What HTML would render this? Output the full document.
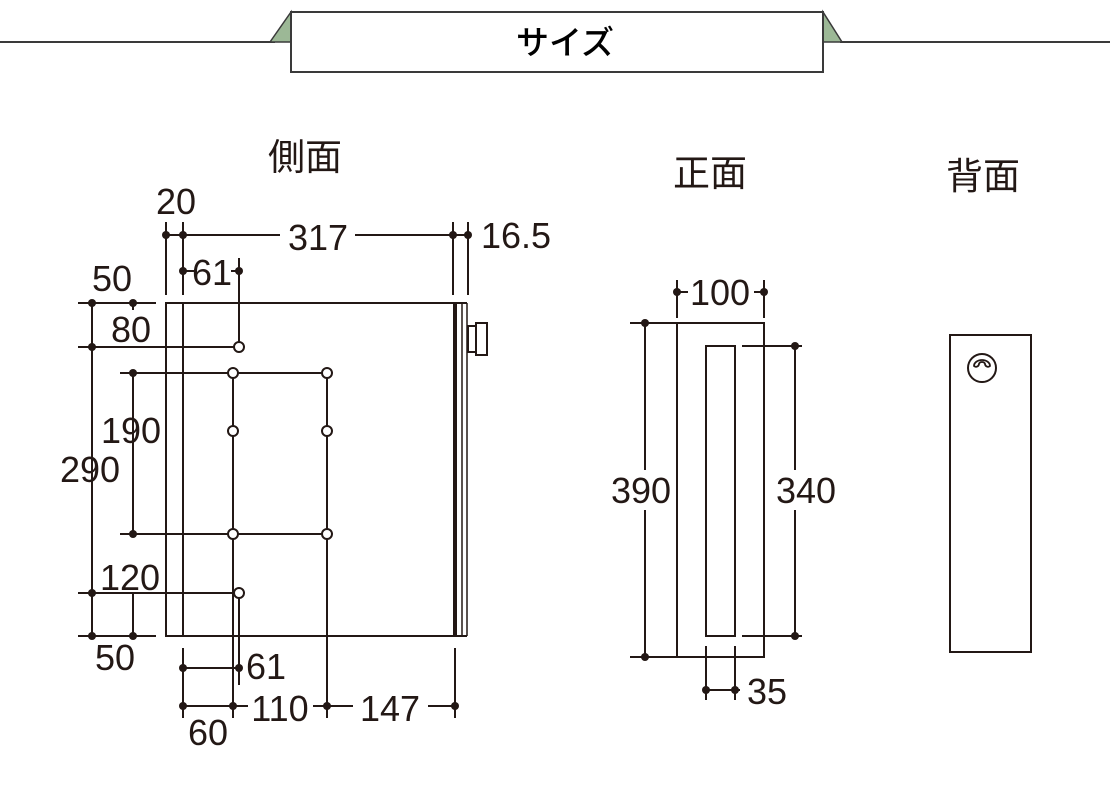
<!DOCTYPE html>
<html><head><meta charset="utf-8"><style>
html,body{margin:0;padding:0;background:#fff;width:1110px;height:810px;overflow:hidden}
svg{display:block}
text{font-family:"Liberation Sans","Noto Sans CJK JP",sans-serif;fill:#231815}
.n{font-size:36px;text-anchor:middle}
.t{font-size:37px;text-anchor:middle;font-family:"Noto Sans CJK JP","Liberation Sans",sans-serif}
</style></head><body>
<svg width="1110" height="810" viewBox="0 0 1110 810" xmlns="http://www.w3.org/2000/svg">
<g stroke="#3a3a3a" stroke-width="2" fill="none">
<line x1="0" y1="42" x2="275" y2="42"/><line x1="840" y1="42" x2="1110" y2="42"/>
</g>
<polygon points="270,42 291,12 291,42" fill="#9cb896" stroke="#3a3a3a" stroke-width="1.5"/>
<polygon points="842,42 823,12 823,42" fill="#9cb896" stroke="#3a3a3a" stroke-width="1.5"/>
<rect x="291" y="12" width="532" height="60" fill="#fff" stroke="#3a3a3a" stroke-width="2"/>
<text x="565" y="54" style="font-size:33px;font-weight:500;text-anchor:middle;font-family:'Noto Sans CJK JP',sans-serif;fill:#000">サイズ</text>

<text class="t" x="305" y="170">側面</text>
<text class="t" x="710" y="186">正面</text>
<text class="t" x="983" y="189">背面</text>

<g stroke="#231815" stroke-width="2" fill="none">
<rect x="166" y="303" width="289" height="333"/>
<line x1="183" y1="303" x2="183" y2="636"/>
<line x1="462" y1="303" x2="462" y2="636" stroke-width="1.5"/>
<line x1="467" y1="303" x2="467" y2="636" stroke-width="1.5"/>
<line x1="455" y1="303" x2="467" y2="303"/><line x1="455" y1="636" x2="467" y2="636"/>
<rect x="468" y="326" width="8" height="26"/><rect x="476" y="323" width="11" height="32"/>
<line x1="166" y1="222" x2="166" y2="295"/><line x1="183" y1="222" x2="183" y2="295"/>
<line x1="453" y1="222" x2="453" y2="295"/><line x1="468" y1="222" x2="468" y2="295"/>
<line x1="166" y1="235" x2="280" y2="235"/><line x1="355" y1="235" x2="468" y2="235"/>
<line x1="183" y1="271" x2="194" y2="271"/><line x1="231" y1="271" x2="239" y2="271"/>
<line x1="239" y1="258" x2="239" y2="342"/>
<line x1="92" y1="303" x2="92" y2="636"/>
<line x1="78" y1="303" x2="156" y2="303"/><line x1="78" y1="636" x2="156" y2="636"/>
<line x1="78" y1="347" x2="234" y2="347"/>
<line x1="78" y1="593" x2="234" y2="593"/>
<line x1="120" y1="373" x2="322" y2="373"/><line x1="120" y1="534" x2="322" y2="534"/>
<line x1="133" y1="373" x2="133" y2="534"/><line x1="133" y1="593" x2="133" y2="636"/>
<line x1="133" y1="303" x2="133" y2="310"/>
<line x1="233" y1="378" x2="233" y2="718"/><line x1="327" y1="378" x2="327" y2="718"/>
<line x1="239" y1="598" x2="239" y2="685"/>
<line x1="183" y1="648" x2="183" y2="718"/><line x1="455" y1="648" x2="455" y2="718"/>
<line x1="183" y1="668" x2="239" y2="668"/>
<line x1="183" y1="706" x2="248" y2="706"/><line x1="313" y1="706" x2="353" y2="706"/><line x1="428" y1="706" x2="455" y2="706"/>
<rect x="677" y="323" width="87" height="334"/>
<rect x="706" y="346" width="29" height="290"/>
<line x1="677" y1="280" x2="677" y2="318"/><line x1="764" y1="280" x2="764" y2="318"/>
<line x1="677" y1="292" x2="688" y2="292"/><line x1="754" y1="292" x2="764" y2="292"/>
<line x1="630" y1="323" x2="677" y2="323"/><line x1="630" y1="657" x2="677" y2="657"/>
<line x1="645" y1="323" x2="645" y2="470"/><line x1="645" y1="510" x2="645" y2="657"/>
<line x1="742" y1="346" x2="802" y2="346"/><line x1="742" y1="636" x2="802" y2="636"/>
<line x1="795" y1="346" x2="795" y2="470"/><line x1="795" y1="510" x2="795" y2="636"/>
<line x1="706" y1="646" x2="706" y2="700"/><line x1="735" y1="646" x2="735" y2="700"/>
<line x1="706" y1="690" x2="740" y2="690"/>
<rect x="950" y="335" width="81" height="317"/>
<circle cx="982" cy="368" r="14"/>
<path d="M974,366 a8,6 0 1 1 16,0 a3,3 0 0 1 -5,-2 a3,2 0 0 0 -6,0 a3,3 0 0 1 -5,2z" stroke-width="1.8"/>
</g>
<rect x="453" y="303" width="4" height="333" fill="#231815"/>
<g fill="#fff" stroke="#231815" stroke-width="2">
<circle cx="239" cy="347" r="5"/><circle cx="239" cy="593" r="5"/>
<circle cx="233" cy="373" r="5"/><circle cx="327" cy="373" r="5"/>
<circle cx="233" cy="431" r="5"/><circle cx="327" cy="431" r="5"/>
<circle cx="233" cy="534" r="5"/><circle cx="327" cy="534" r="5"/>
</g>
<g fill="#231815">
<circle cx="166" cy="235" r="4"/><circle cx="183" cy="235" r="4"/><circle cx="453" cy="235" r="4"/><circle cx="468" cy="235" r="4"/>
<circle cx="183" cy="271" r="4"/><circle cx="239" cy="271" r="4"/>
<circle cx="92" cy="303" r="4"/><circle cx="133" cy="303" r="4"/><circle cx="92" cy="347" r="4"/>
<circle cx="133" cy="373" r="4"/><circle cx="133" cy="534" r="4"/>
<circle cx="92" cy="593" r="4"/><circle cx="92" cy="636" r="4"/><circle cx="133" cy="636" r="4"/>
<circle cx="183" cy="668" r="4"/><circle cx="239" cy="668" r="4"/>
<circle cx="183" cy="706" r="4"/><circle cx="233" cy="706" r="4"/><circle cx="327" cy="706" r="4"/><circle cx="455" cy="706" r="4"/>
<circle cx="677" cy="292" r="4"/><circle cx="764" cy="292" r="4"/>
<circle cx="645" cy="323" r="4"/><circle cx="645" cy="657" r="4"/>
<circle cx="795" cy="346" r="4"/><circle cx="795" cy="636" r="4"/>
<circle cx="706" cy="690" r="4"/><circle cx="735" cy="690" r="4"/>
</g>
<text class="n" x="176" y="214">20</text>
<text class="n" x="318" y="250">317</text>
<text class="n" x="516" y="248">16.5</text>
<text class="n" x="212" y="285">61</text>
<text class="n" x="112" y="291">50</text>
<text class="n" x="131" y="342">80</text>
<text class="n" x="131" y="443">190</text>
<text class="n" x="90" y="482">290</text>
<text class="n" x="130" y="590">120</text>
<text class="n" x="115" y="670">50</text>
<text class="n" x="266" y="679">61</text>
<text class="n" x="280" y="721">110</text>
<text class="n" x="390" y="721">147</text>
<text class="n" x="208" y="745">60</text>
<text class="n" x="720" y="305">100</text>
<text class="n" x="641" y="503">390</text>
<text class="n" x="806" y="503">340</text>
<text class="n" x="767" y="704">35</text>
</svg>
</body></html>
